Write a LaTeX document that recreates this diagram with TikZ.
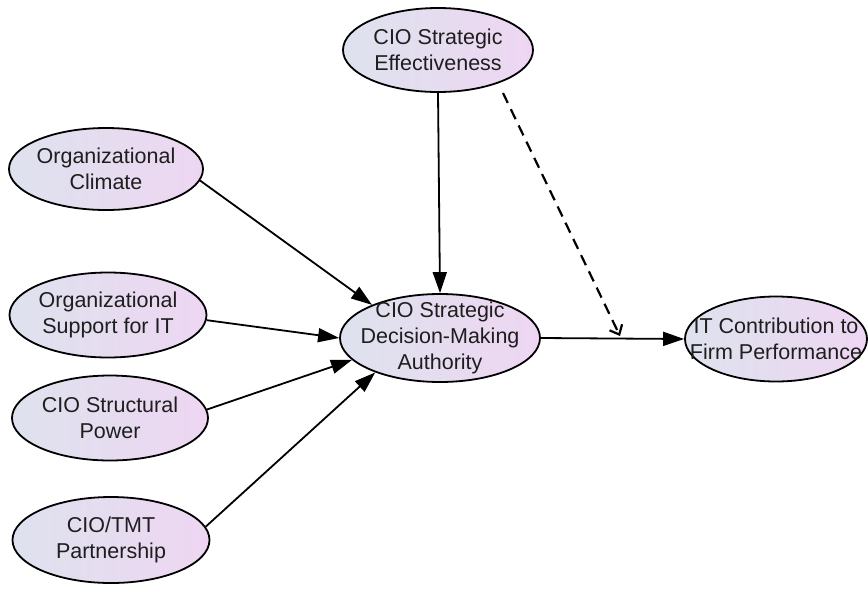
\documentclass[tikz,border=0pt]{standalone}
\usepackage{fontspec}
\setmainfont{Liberation Sans}
\usetikzlibrary{arrows.meta,shapes.geometric}
\definecolor{ovalL}{RGB}{222,226,238}
\definecolor{ovalR}{RGB}{238,214,242}
\definecolor{txt}{RGB}{30,30,30}
\tikzset{
  oval/.style={ellipse, draw=black, line width=1.8pt, left color=ovalL, right color=ovalR, inner sep=0pt},
  lbl/.style={align=center, text=txt, inner sep=0pt, font=\fontsize{21.5}{26}\selectfont},
  conn/.style={line width=1.8pt, -{Triangle[length=21pt,width=14pt]}},
  dconn/.style={line width=2.2pt, dash pattern=on 11pt off 7pt, -{Straight Barb[length=8pt,width=14pt,line width=2.2pt]}}
}
\begin{document}
\begin{tikzpicture}[x=1pt,y=-1pt]
\useasboundingbox (0,0) rectangle (868,603);
\node[oval, minimum width=190pt, minimum height=84pt] (eff) at (438,50) {};
\node[lbl] (efft) at (eff) {CIO Strategic\\Effectiveness};
\node[oval, minimum width=194pt, minimum height=82pt] (clim) at (106,169) {};
\node[lbl] (climt) at (clim) {Organizational\\Climate};
\node[oval, minimum width=197pt, minimum height=85pt] (supp) at (108,315) {};
\node[lbl] (suppt) at (supp) {Organizational\\Support for IT};
\node[oval, minimum width=196pt, minimum height=85pt] (pow) at (110,418) {};
\node[lbl] (powt) at (pow) {CIO Structural\\Power};
\node[oval, minimum width=197pt, minimum height=86pt] (part) at (111,540) {};
\node[lbl] (partt) at (part) {CIO/TMT\\Partnership};
\node[oval, minimum width=200pt, minimum height=88pt] (auth) at (440,338) {};
\node[lbl] (autht) at (auth) {CIO Strategic\\Decision-Making\\Authority};
\node[oval, minimum width=182pt, minimum height=85pt] (itc) at (776,339) {};
\node[lbl] (itct) at (itc) {IT Contribution to\\Firm Performance};
\coordinate (ds) at (503,93);
\coordinate (de) at (620,336);
\draw[conn] (eff.south) -- (auth.north);
\draw[conn] (clim.-7) -- (auth.154);
\draw[conn] (supp.-3) -- (auth.180);
\draw[conn] (pow.5) -- (auth.194);
\draw[conn] (part.8) -- (auth.208);
\draw[conn] (auth.east) -- (itc.west);
\draw[dconn] (ds) -- (de);
\end{tikzpicture}
\end{document}
